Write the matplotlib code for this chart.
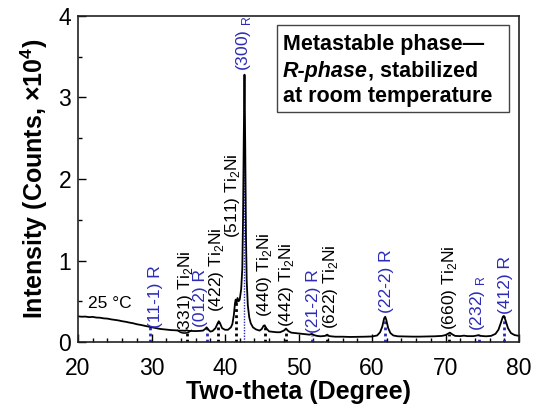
import matplotlib.pyplot as plt
from matplotlib.patches import Rectangle

plt.rcParams['font.family'] = ['Liberation Sans', 'DejaVu Sans']
plt.rcParams['mathtext.fontset'] = 'custom'
plt.rcParams['mathtext.rm'] = 'Liberation Sans'
plt.rcParams['mathtext.bf'] = 'Liberation Sans:bold'

BLUE = '#2b2bb8'

# XRD pattern (2theta in degree, intensity x1e4 counts)
two_theta = [
    20.0, 20.5, 21.0, 21.5, 22.0, 22.5, 23.0, 23.5, 24.0, 24.5, 25.0, 25.5,
    26.0, 26.5, 27.0, 27.5, 28.0, 28.5, 29.0, 29.5, 29.8, 30.2, 30.7, 31.2,
    31.7, 32.2, 32.7, 33.2, 33.7, 34.2, 34.6, 34.8, 35.0, 35.5, 36.0, 36.5,
    37.0, 37.3, 37.5, 37.7, 38.0, 38.3, 38.7, 39.0, 39.15, 39.3, 39.6, 40.0,
    40.4, 40.8, 41.0, 41.2, 41.35, 41.45, 41.55, 41.7, 41.85, 42.0, 42.2,
    42.35, 42.45, 42.55, 42.65, 42.75, 42.85, 42.95, 43.1, 43.3, 43.5, 43.8,
    44.2, 44.7, 45.0, 45.25, 45.4, 45.6, 46.0, 46.5, 47.0, 47.5, 48.0, 48.3,
    48.6, 49.0, 49.5, 50.0, 50.5, 51.0, 51.5, 51.8, 52.1, 52.5, 53.0, 53.6,
    53.9, 54.2, 55.0, 56.0, 57.0, 58.0, 59.0, 60.0, 60.7, 61.1, 61.4, 61.65,
    61.8, 61.95, 62.2, 62.5, 62.9, 63.5, 64.5, 65.5, 66.5, 67.5, 68.5, 69.5,
    70.0, 70.4, 70.6, 70.9, 71.3, 72.0, 72.5, 73.0, 73.8, 74.3, 74.5, 74.8,
    75.5, 76.2, 76.8, 77.2, 77.55, 77.8, 77.95, 78.15, 78.5, 78.9, 79.4, 80.0,
]
intensity = [
    0.315, 0.31, 0.312, 0.305, 0.308, 0.30, 0.298, 0.29, 0.287, 0.278, 0.272, 0.265,
    0.255, 0.248, 0.238, 0.23, 0.218, 0.21, 0.20, 0.19, 0.185, 0.178, 0.168, 0.16,
    0.155, 0.15, 0.146, 0.144, 0.14, 0.14, 0.138, 0.145, 0.137, 0.135, 0.134, 0.136,
    0.14, 0.16, 0.18, 0.155, 0.128, 0.135, 0.17, 0.23, 0.255, 0.235, 0.17, 0.15,
    0.15, 0.18, 0.22, 0.33, 0.47, 0.52, 0.48, 0.54, 0.50, 0.52, 0.65,
    0.9, 1.5, 2.5, 3.28, 2.4, 1.3, 0.75, 0.45, 0.30, 0.23, 0.18,
    0.155, 0.14, 0.16, 0.20, 0.205, 0.17, 0.13, 0.125, 0.12, 0.12, 0.14, 0.165,
    0.135, 0.115, 0.11, 0.105, 0.10, 0.095, 0.09, 0.10, 0.085, 0.075, 0.07, 0.075,
    0.09, 0.072, 0.065, 0.065, 0.062, 0.063, 0.065, 0.068, 0.08, 0.12, 0.19, 0.29,
    0.31, 0.27, 0.17, 0.11, 0.08, 0.07, 0.068, 0.066, 0.066, 0.068, 0.07, 0.075,
    0.085, 0.105, 0.115, 0.095, 0.075, 0.072, 0.078, 0.072, 0.072, 0.08, 0.085, 0.075,
    0.07, 0.075, 0.10, 0.15, 0.24, 0.31, 0.32, 0.27, 0.17, 0.11, 0.085, 0.075,
]

# reflection markers: position, height of dotted line
ti2ni_pos = [34.8, 39.1, 41.5, 45.4, 48.3, 53.9, 70.5]
ti2ni_h = [0.14, 0.24, 0.50, 0.19, 0.16, 0.08, 0.10]
r_pos = [29.8, 37.5, 51.8, 61.8, 74.5, 77.9]
r_h = [0.18, 0.17, 0.09, 0.30, 0.08, 0.32]
main_pos = 42.65
main_h = 3.28

# peak labels: text, x, bottom y
ti2ni_labels = ['(331) Ti$_2$Ni', '(422) Ti$_2$Ni', '(511) Ti$_2$Ni', '(440) Ti$_2$Ni',
                '(442) Ti$_2$Ni', '(622) Ti$_2$Ni', '(660) Ti$_2$Ni']
ti2ni_lx = [34.6, 38.9, 41.0, 45.4, 48.3, 54.4, 70.6]
ti2ni_ly = [0.09, 0.37, 1.27, 0.31, 0.19, 0.16, 0.15]
r_labels = ['(11-1) R', '(012) R', '(300) $_{\\rm R}$', '(21-2) R', '(22-2) R',
            '(232) $_{\\rm R}$', '(412) R']
r_lx = [30.5, 36.7, 42.5, 52.0, 62.0, 74.4, 78.2]
r_ly = [0.17, 0.19, 3.32, 0.11, 0.36, 0.13, 0.34]

fig = plt.figure(figsize=(5.37, 4.09), dpi=100)
ax = fig.add_axes([0.1453, 0.1638, 0.8212, 0.7971])

ax.vlines(ti2ni_pos, 0, ti2ni_h, colors='black', linestyles=(0, (1, 1.2)), lw=2)
ax.vlines(r_pos, 0, r_h, colors=BLUE, linestyles=(0, (1, 1.2)), lw=2)
ax.vlines(main_pos, 0, main_h, colors=BLUE, linestyles=(0, (1, 1)), lw=1)
ax.plot(two_theta, intensity, color='black', lw=1.3)

for t, x, y in zip(ti2ni_labels, ti2ni_lx, ti2ni_ly):
    ax.text(x, y, t, rotation=90, ha='center', va='bottom', fontsize=12.5, color='black')
for t, x, y in zip(r_labels, r_lx, r_ly):
    ax.text(x, y, t, rotation=90, ha='center', va='bottom', fontsize=12.5, color=BLUE)

ax.text(21.3, 0.47, '25 \u00b0C', fontsize=12.5, va='center', ha='left')

# annotation box
ax.add_patch(Rectangle((0.451, 0.706), 0.526, 0.266, transform=ax.transAxes,
                       fill=False, lw=1.0, edgecolor='#444444'))
ax.text(0.465, 0.896, 'Metastable phase\u2014', transform=ax.transAxes,
        fontsize=15.5, fontweight='bold', va='baseline')
t1 = ax.text(0.465, 0.813, 'R-phase', transform=ax.transAxes, fontsize=15.5,
             fontweight='bold', fontstyle='italic', va='baseline')
ax.annotate(', stabilized', xy=(1, 0), xycoords=t1, fontsize=15.5,
            fontweight='bold', va='bottom', ha='left')
ax.text(0.465, 0.736, 'at room temperature', transform=ax.transAxes,
        fontsize=15.5, fontweight='bold', va='baseline')

ax.set_xlim(20, 80)
ax.set_ylim(0, 4)
ax.set_xticks([20, 30, 40, 50, 60, 70, 80])
ax.set_xticks(range(20, 81, 2), minor=True)
ax.set_yticks([0, 1, 2, 3, 4])
ax.set_yticks([0.5, 1.5, 2.5, 3.5], minor=True)
ax.tick_params(which='both', direction='in', width=1.0, labelsize=16.5)
ax.tick_params(which='major', length=6)
ax.tick_params(which='minor', length=3)
ax.tick_params(axis='x', pad=11)
ax.tick_params(axis='y', pad=5)
for s in ax.spines.values():
    s.set_linewidth(1.2)
    s.set_color('#222222')

ax.set_xlabel('Two-theta (Degree)', fontsize=18, fontweight='bold', labelpad=0)
ax.set_ylabel('Intensity (Counts, \u00d710$^{\\mathbf{4}}$)', fontsize=18,
              fontweight='bold', labelpad=6)

fig.savefig('out.png', dpi=100)
